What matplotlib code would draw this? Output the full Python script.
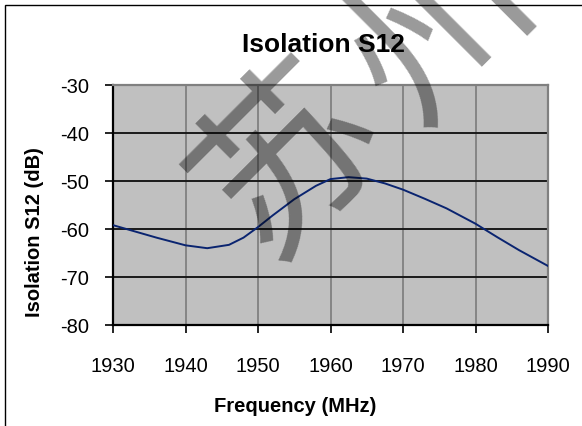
import matplotlib.pyplot as plt
from matplotlib.patches import Rectangle

# data
freq = [1930, 1933, 1936, 1940, 1943, 1946, 1948, 1950, 1952, 1955, 1958,
        1960, 1962.5, 1965, 1967.5, 1970, 1973, 1976, 1980, 1983, 1986, 1990]
s12 = [-59.2, -60.5, -61.8, -63.4, -64.0, -63.3, -61.8, -59.6, -57.2, -53.8, -51.0,
       -49.6, -49.2, -49.5, -50.5, -51.8, -53.7, -55.7, -58.9, -61.7, -64.4, -67.7]
x_ticks = [1930, 1940, 1950, 1960, 1970, 1980, 1990]
y_ticks = [-80, -70, -60, -50, -40, -30]

W, H = 582, 427
plt.rcParams['font.family'] = ['Liberation Sans', 'DejaVu Sans']
plt.rcParams['axes.unicode_minus'] = False
fig = plt.figure(figsize=(W / 100, H / 100), dpi=100)

ax = fig.add_axes([113 / W, 1 - 326 / H, 435 / W, 240 / H])
ax.set_facecolor('#C0C0C0')
ax.plot(freq, s12, color='#0A2470', linewidth=1.4, zorder=3)

ax.set_xlim(1930, 1990)
ax.set_ylim(-80, -30)
ax.set_xticks(x_ticks)
ax.set_yticks(y_ticks)
ax.set_axisbelow(True)
ax.xaxis.grid(True, color='#808080', linewidth=1.3)
ax.yaxis.grid(True, color='#1a1a1a', linewidth=1.4)

for s in ['left', 'bottom']:
    ax.spines[s].set_color('black')
    ax.spines[s].set_linewidth(1.6)
for s in ['top', 'right']:
    ax.spines[s].set_color('#808080')
    ax.spines[s].set_linewidth(1.6)

ax.tick_params(axis='x', direction='out', length=6, width=1.2, pad=16, labelsize=14.5)
ax.tick_params(axis='y', direction='out', length=6, width=1.2, pad=11, labelsize=14.5)

fig.text(323 / W, 1 - 45 / H, 'Isolation S12', ha='center', va='center',
         fontsize=19, fontweight='bold')
fig.text(295 / W, 1 - 407 / H, 'Frequency (MHz)', ha='center', va='center',
         fontsize=14.5, fontweight='bold')
fig.text(35 / W, 1 - 232 / H, 'Isolation S12 (dB)', ha='center', va='center',
         rotation=90, fontsize=14.5, fontweight='bold')

# outer chart border
fig.patches.append(Rectangle((5 / W, -0.1), 1.2, 1 - 6 / H + 0.1,
                             transform=fig.transFigure, fill=False,
                             edgecolor='black', linewidth=1.0))

# watermark
for ch, cx, cy in [('苏', 291, 160), ('州', 440, 28)]:
    fig.text(cx / W, 1 - cy / H, ch, ha='center', va='center', rotation=45,
             fontsize=130, color='black', alpha=0.4,
             family=['Noto Sans CJK SC', 'DejaVu Sans'], zorder=10)

fig.savefig('out.png', dpi=100)
